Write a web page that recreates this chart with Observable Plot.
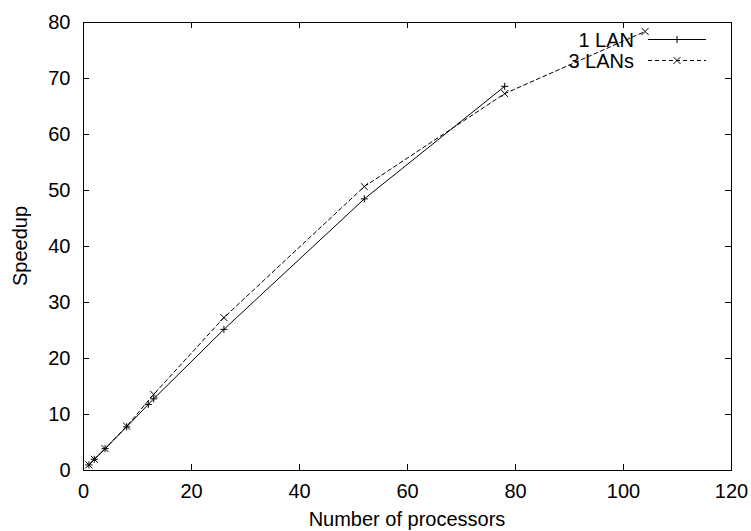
<!DOCTYPE html>
<html><head><meta charset="utf-8">
<script src="https://cdn.jsdelivr.net/npm/d3@7"></script>
<script src="https://cdn.jsdelivr.net/npm/@observablehq/plot@0.6"></script>
<style>body{margin:0;background:#fff}</style>
</head><body><div id="chart"></div>
<script>
const procs1LAN = [1, 2, 4, 8, 12, 13, 26, 52, 78];
const speedup1LAN = [1.0, 2.0, 3.9, 7.8, 11.8, 12.8, 25.2, 48.5, 68.6];
const procs3LANs = [1, 2, 4, 8, 13, 26, 52, 78, 104];
const speedup3LANs = [1.0, 2.0, 3.9, 7.9, 13.6, 27.3, 50.7, 67.3, 78.4];
const xTicks = [0, 20, 40, 60, 80, 100, 120];
const yTicks = [0, 10, 20, 30, 40, 50, 60, 70, 80];
const seriesNames = ["1 LAN", "3 LANs"];
const xLabel = "Number of processors";
const yLabel = "Speedup";

const data1 = procs1LAN.map((p, i) => ({p, s: speedup1LAN[i]}));
const data3 = procs3LANs.map((p, i) => ({p, s: speedup3LANs[i]}));

const W = 751, H = 531, mL = 83, mR = 20, mT = 22, mB = 61;
const frameW = W - mL - mR, frameH = H - mT - mB;
const font = "'Liberation Sans', Arial, Helvetica, sans-serif";
const fs = 20;
const tick = 6;
const rPlus = 2.4, rTimes = 3.3;
const dash = "4,3";

function overlay(index, scales, values, dims) {
  const g = d3.create("svg:g").attr("font-family", font).attr("font-size", fs).attr("fill", "black");
  g.append("text").attr("x", mL + frameW / 2).attr("y", 526).attr("text-anchor", "middle").text(xLabel);
  g.append("text").attr("transform", `translate(27,${mT + frameH / 2}) rotate(-90)`).attr("text-anchor", "middle").text(yLabel);
  const rows = [
    {name: seriesNames[0], y: 39.5, dash: null, sym: d3.symbolPlus, r: rPlus},
    {name: seriesNames[1], y: 60.5, dash: dash, sym: d3.symbolTimes, r: rTimes}
  ];
  const x0 = W - mR - 83, x1 = W - mR - 25;
  for (const row of rows) {
    g.append("text").attr("x", x0 - 14).attr("y", row.y + 7).attr("text-anchor", "end").text(row.name);
    g.append("line").attr("x1", x0).attr("x2", x1).attr("y1", row.y).attr("y2", row.y)
      .attr("stroke", "black").attr("stroke-width", 1).attr("stroke-dasharray", row.dash);
    g.append("path").attr("transform", `translate(${(x0 + x1) / 2},${row.y})`)
      .attr("d", d3.symbol(row.sym, row.r * row.r * Math.PI)())
      .attr("fill", "none").attr("stroke", "black").attr("stroke-width", 1);
  }
  return g.node();
}

const plot = Plot.plot({
  width: W, height: H,
  marginLeft: mL, marginRight: mR, marginTop: mT, marginBottom: mB,
  style: {fontFamily: font, fontSize: fs + "px", background: "white", color: "black"},
  x: {domain: [0, 120]},
  y: {domain: [0, 80]},
  marks: [
    Plot.axisX(xTicks, {tickSize: 0, tickPadding: 13, fontSize: fs, label: null}),
    Plot.axisY(yTicks, {tickSize: 0, tickPadding: 13, fontSize: fs, label: null}),
    Plot.tickX(xTicks, {x: d => d, insetTop: frameH - tick, stroke: "black"}),
    Plot.tickX(xTicks, {x: d => d, insetBottom: frameH - tick, stroke: "black"}),
    Plot.tickY(yTicks, {y: d => d, insetRight: frameW - tick, stroke: "black"}),
    Plot.tickY(yTicks, {y: d => d, insetLeft: frameW - tick, stroke: "black"}),
    Plot.line(data1, {x: "p", y: "s", stroke: "black", strokeWidth: 1}),
    Plot.line(data3, {x: "p", y: "s", stroke: "black", strokeWidth: 1, strokeDasharray: dash}),
    Plot.dot(data1, {x: "p", y: "s", symbol: "plus", r: rPlus, stroke: "black", strokeWidth: 1}),
    Plot.dot(data3, {x: "p", y: "s", symbol: "times", r: rTimes, stroke: "black", strokeWidth: 1}),
    Plot.frame({stroke: "black", strokeWidth: 1}),
    overlay
  ]
});
document.getElementById("chart").appendChild(plot);
</script>
</body></html>
